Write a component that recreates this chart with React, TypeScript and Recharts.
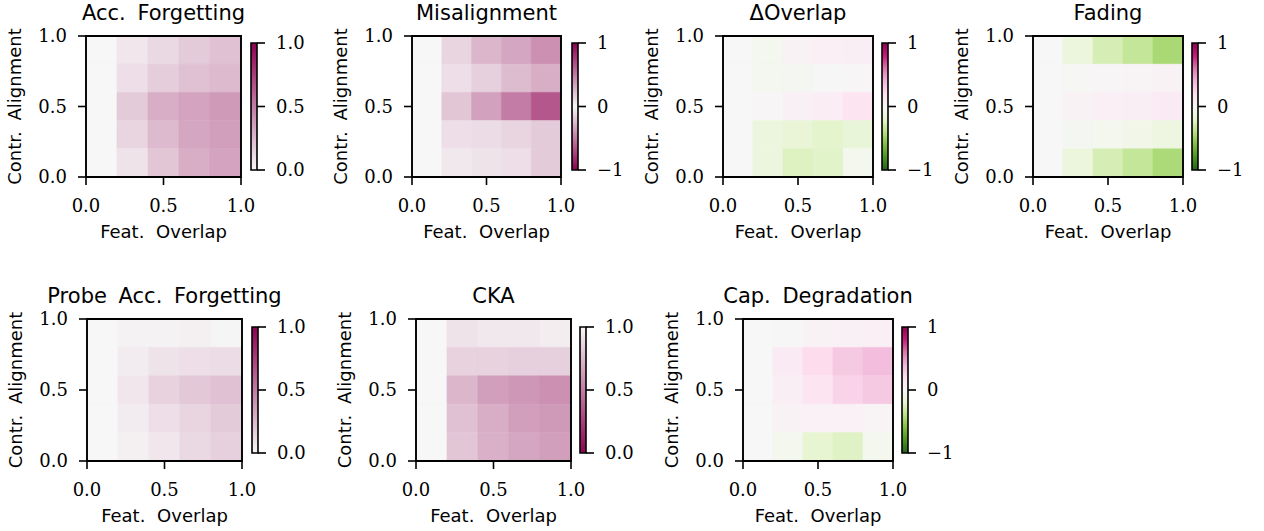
import React from 'react';
import { ComposedChart, XAxis, YAxis, ReferenceArea } from 'recharts';

// ---------- data ----------
// grid levels (columns: Feat. Overlap, rows listed top -> bottom: Contr. Alignment)
const featOverlapLevels = [0, 0.25, 0.5, 0.75, 1];
const contrAlignmentLevels = [1, 0.75, 0.5, 0.25, 0];
const axisTicks = [0, 0.5, 1];
const seqTicks = [0, 0.5, 1];
const divTicks = [-1, 0, 1];

const accForgetting = [
  [0, 0.07, 0.12, 0.18, 0.22],
  [0, 0.1, 0.17, 0.22, 0.25],
  [0, 0.18, 0.3, 0.34, 0.38],
  [0, 0.14, 0.25, 0.33, 0.36],
  [0, 0.08, 0.2, 0.3, 0.34],
];
const misalignment = [
  [0, 0.14, 0.26, 0.33, 0.42],
  [0, 0.1, 0.16, 0.24, 0.3],
  [0, 0.2, 0.35, 0.5, 0.65],
  [0, 0.1, 0.11, 0.14, 0.18],
  [0, 0.06, 0.08, 0.1, 0.18],
];
const deltaOverlap = [
  [0, -0.05, 0.04, 0.07, 0.08],
  [0, -0.05, -0.03, 0.01, 0.02],
  [0, 0.02, 0.06, 0.09, 0.16],
  [0, -0.13, -0.17, -0.21, -0.16],
  [0, -0.13, -0.24, -0.22, -0.05],
];
const fading = [
  [0, -0.14, -0.27, -0.35, -0.45],
  [0, -0.01, 0.02, 0.03, 0.04],
  [0, 0.04, 0.07, 0.08, 0.11],
  [0, -0.03, -0.05, -0.07, -0.11],
  [0, -0.14, -0.27, -0.35, -0.44],
];
const probeAccForgetting = [
  [0, 0.02, 0.02, 0.03, 0.01],
  [0, 0.05, 0.08, 0.1, 0.11],
  [0, 0.07, 0.15, 0.19, 0.22],
  [0, 0.05, 0.1, 0.14, 0.18],
  [0, 0.03, 0.07, 0.12, 0.16],
];
const cka = [
  [1, 0.92, 0.94, 0.94, 0.96],
  [1, 0.85, 0.85, 0.84, 0.84],
  [1, 0.74, 0.64, 0.61, 0.58],
  [1, 0.78, 0.7, 0.64, 0.62],
  [1, 0.8, 0.71, 0.67, 0.64],
];
const capDegradation = [
  [0, 0.01, 0.04, 0.06, 0.07],
  [0, 0.11, 0.22, 0.31, 0.36],
  [0, 0.08, 0.16, 0.26, 0.31],
  [0, 0.04, 0.05, 0.05, 0.03],
  [0, -0.05, -0.19, -0.23, -0.05],
];

const panelTitles = [
  'Acc. Forgetting',
  'Misalignment',
  '\u0394Overlap',
  'Fading',
  'Probe Acc. Forgetting',
  'CKA',
  'Cap. Degradation',
];
const panelValues = [accForgetting, misalignment, deltaOverlap, fading, probeAccForgetting, cka, capDegradation];
const panelCmaps = ['seq', 'abs', 'div', 'div', 'seq', 'seqR', 'div'];
const xLabel = 'Feat. Overlap';
const yLabel = 'Contr. Alignment';

// ---------- layout (pixels) ----------
const plotBoxes = [
  { x: 86, y: 36, w: 155, h: 141 },
  { x: 412, y: 36, w: 149, h: 141 },
  { x: 723, y: 36, w: 150, h: 141 },
  { x: 1033, y: 36, w: 150, h: 141 },
  { x: 87, y: 319, w: 155, h: 142 },
  { x: 416, y: 319, w: 155, h: 142 },
  { x: 743, y: 319, w: 150, h: 142 },
];
const cbBoxes = [
  { x: 251, y: 43, w: 6, h: 127 },
  { x: 572, y: 43, w: 6, h: 127 },
  { x: 882, y: 43, w: 6, h: 127 },
  { x: 1192, y: 43, w: 6, h: 127 },
  { x: 252, y: 327, w: 6, h: 126 },
  { x: 580, y: 327, w: 6, h: 126 },
  { x: 902, y: 327, w: 6, h: 126 },
];

// ---------- colormaps ----------
const PIYG = ['#276419', '#4d9221', '#7fbc41', '#b8e186', '#e6f5d0', '#f7f7f7', '#fde0ef', '#f1b6da', '#de77ae', '#c51b7d', '#8e0152'];
const SEQ_LO = '#f7f7f7';
const SEQ_HI = '#8e0152';

const hex = (h: string) => [1, 3, 5].map((i) => parseInt(h.slice(i, i + 2), 16));
const toHex = (c: number[]) => '#' + c.map((v) => Math.round(Math.max(0, Math.min(255, v))).toString(16).padStart(2, '0')).join('');
const mix = (a: string, b: string, t: number) => {
  const A = hex(a), B = hex(b);
  return toHex(A.map((v, i) => v + (B[i] - v) * t));
};
const clamp = (v: number, lo: number, hi: number) => Math.max(lo, Math.min(hi, v));
const seqColor = (t: number) => mix(SEQ_LO, SEQ_HI, clamp(t, 0, 1));
const divColor = (v: number) => {
  const p = ((clamp(v, -1, 1) + 1) / 2) * (PIYG.length - 1);
  const i = Math.min(PIYG.length - 2, Math.floor(p));
  return mix(PIYG[i], PIYG[i + 1], p - i);
};
const colorFor = (cmap: string, v: number) => {
  if (cmap === 'seq') return seqColor(v);
  if (cmap === 'seqR') return seqColor(1 - v);
  if (cmap === 'abs') return seqColor(Math.abs(v));
  return divColor(v);
};
const domainFor = (cmap: string): [number, number] => (cmap === 'seq' || cmap === 'seqR' ? [0, 1] : [-1, 1]);
const ticksFor = (cmap: string) => (cmap === 'seq' || cmap === 'seqR' ? seqTicks : divTicks);
const fmtSeq = (v: number) => v.toFixed(1);
const fmtDiv = (v: number) => (v < 0 ? '\u2212' + Math.abs(v).toFixed(0) : v.toFixed(0));

const gradientStops = (cmap: string) => {
  const [lo, hi] = domainFor(cmap);
  const n = 40;
  return Array.from({ length: n + 1 }, (_, k) => {
    const f = k / n;
    return { offset: f, color: colorFor(cmap, lo + (hi - lo) * f) };
  });
};

const SERIF = 'DejaVu Serif';
const SANS = 'DejaVu Sans';
const tickStyle = { fontFamily: SERIF, fontSize: 18, fill: '#000' };
const tickLineStyle = { stroke: '#000', strokeWidth: 1.6 };

function Heatmap({ idx }: { idx: number }) {
  const box = plotBoxes[idx];
  const values = panelValues[idx];
  const cmap = panelCmaps[idx];
  const ml = 80, mt = 15, mr = 25, mb = 45;
  const nx = featOverlapLevels.length;
  const ny = contrAlignmentLevels.length;
  const cells: any[] = [];
  values.forEach((row, i) =>
    row.forEach((v, j) => {
      cells.push({
        key: `${i}-${j}`,
        x1: j / nx,
        x2: (j + 1) / nx,
        y1: 1 - (i + 1) / ny,
        y2: 1 - i / ny,
        fill: colorFor(cmap, v),
      });
    })
  );
  return (
    <div style={{ position: 'absolute', left: box.x - ml, top: box.y - mt }}>
      <ComposedChart
        width={box.w + ml + mr}
        height={box.h + mt + mb}
        margin={{ top: mt, right: mr, left: 0, bottom: 0 }}
        data={cells}
      >
        <XAxis
          type="number"
          dataKey="x1"
          domain={[0, 1]}
          allowDataOverflow
          ticks={axisTicks}
          interval={0}
          height={mb}
          tickSize={8}
          tickMargin={14}
          axisLine={false}
          tickLine={tickLineStyle}
          tick={tickStyle}
          tickFormatter={fmtSeq}
        />
        <YAxis
          type="number"
          dataKey="y1"
          domain={[0, 1]}
          allowDataOverflow
          ticks={axisTicks}
          interval={0}
          width={ml}
          tickSize={8}
          tickMargin={11}
          axisLine={false}
          tickLine={tickLineStyle}
          tick={tickStyle}
          tickFormatter={fmtSeq}
        />
        {cells.map((c) => (
          <ReferenceArea
            key={c.key}
            x1={c.x1}
            x2={c.x2}
            y1={c.y1}
            y2={c.y2}
            fill={c.fill}
            fillOpacity={1}
            stroke={c.fill}
            strokeWidth={0.6}
          />
        ))}
        <ReferenceArea x1={0} x2={1} y1={0} y2={1} fill="none" fillOpacity={0} stroke="#000" strokeWidth={1.9} />
      </ComposedChart>
    </div>
  );
}

function Colorbar({ idx }: { idx: number }) {
  const box = cbBoxes[idx];
  const cmap = panelCmaps[idx];
  const dom = domainFor(cmap);
  const isSeq = cmap === 'seq' || cmap === 'seqR';
  const ml = 5, mt = 15, mr = 50, mb = 15;
  return (
    <div style={{ position: 'absolute', left: box.x - ml, top: box.y - mt }}>
      <ComposedChart
        width={box.w + ml + mr}
        height={box.h + mt + mb}
        margin={{ top: mt, right: 0, left: ml, bottom: mb }}
        data={gradientStops(cmap)}
      >
        <XAxis type="number" dataKey="offset" domain={[0, 1]} allowDataOverflow hide />
        <YAxis
          orientation="right"
          type="number"
          domain={dom}
          allowDataOverflow
          ticks={ticksFor(cmap)}
          interval={0}
          width={mr}
          tickSize={8}
          tickMargin={11}
          axisLine={false}
          tickLine={tickLineStyle}
          tick={tickStyle}
          tickFormatter={isSeq ? fmtSeq : fmtDiv}
        />
        <ReferenceArea
          x1={0}
          x2={1}
          y1={dom[0]}
          y2={dom[1]}
          fill={`url(#cbgrad-${idx})`}
          fillOpacity={1}
          stroke="#000"
          strokeWidth={1.6}
        />
      </ComposedChart>
    </div>
  );
}

export default function App() {
  return (
    <div style={{ position: 'absolute', left: 0, top: 0, width: 1264, height: 531, background: '#fff', overflow: 'hidden' }}>
      <svg width={0} height={0} style={{ position: 'absolute' }}>
        <defs>
          {panelCmaps.map((cmap, idx) => (
            <linearGradient key={idx} id={`cbgrad-${idx}`} x1="0" y1="1" x2="0" y2="0">
              {gradientStops(cmap).map((s, k) => (
                <stop key={k} offset={s.offset} stopColor={s.color} />
              ))}
            </linearGradient>
          ))}
        </defs>
      </svg>
      {panelTitles.map((_, idx) => (
        <React.Fragment key={idx}>
          <Heatmap idx={idx} />
          <Colorbar idx={idx} />
        </React.Fragment>
      ))}
      <svg width={1264} height={531} style={{ position: 'absolute', left: 0, top: 0, pointerEvents: 'none' }}>
        {panelTitles.map((title, idx) => {
          const b = plotBoxes[idx];
          const cx = b.x + b.w / 2;
          const cy = b.y + b.h / 2;
          return (
            <g key={idx} fontFamily={SANS} fill="#000">
              <text x={cx} y={b.y - 16} textAnchor="middle" fontSize={21} wordSpacing={5}>
                {title}
              </text>
              <text x={cx} y={b.y + b.h + 61} textAnchor="middle" fontSize={18} wordSpacing={6}>
                {xLabel}
              </text>
              <text transform={`translate(${b.x - 65},${cy}) rotate(-90)`} textAnchor="middle" fontSize={18} wordSpacing={5}>
                {yLabel}
              </text>
            </g>
          );
        })}
      </svg>
    </div>
  );
}
